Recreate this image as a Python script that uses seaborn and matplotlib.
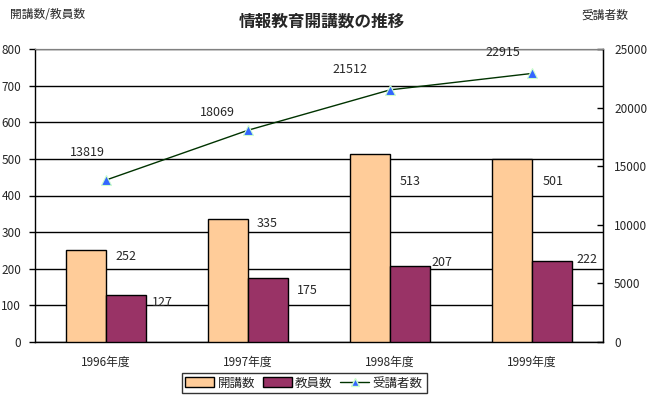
import matplotlib
matplotlib.use("Agg")
import matplotlib.pyplot as plt
from matplotlib.lines import Line2D
from matplotlib.patches import Patch
import numpy as np
import pandas as pd
import seaborn as sns

# data
years = ["1996年度", "1997年度", "1998年度", "1999年度"]
courses = [252, 335, 513, 501]      # 開講数
teachers = [127, 175, 207, 222]     # 教員数
students = [13819, 18069, 21512, 22915]  # 受講者数

# label nudges (pixels) as placed in the original chart
course_off = [(40, -7), (39, -4), (40, -27), (41, -23)]
teacher_off = [(36, -7), (39, -13), (32, 4), (35, 1)]
student_off = [(-19, 28), (-31, 18), (-40, 20), (-29, 21)]

ORANGE = "#FFCC99"
PURPLE = "#993366"
LINE = "#003300"
MARK = "#3366FF"

sns.set_style("white")
plt.rcParams["font.family"] = ["Noto Sans CJK JP", "DejaVu Sans"]
plt.rcParams["font.size"] = 8.5

df = pd.DataFrame({
    "year": years * 2,
    "value": courses + teachers,
    "kind": ["開講数"] * 4 + ["教員数"] * 4,
})

fig = plt.figure(figsize=(6.49, 3.97), dpi=100)
ax = fig.add_axes([35 / 649, 55 / 397, 568 / 649, 293 / 397])

sns.barplot(data=df, x="year", y="value", hue="kind", order=years,
            hue_order=["開講数", "教員数"], palette=[ORANGE, PURPLE],
            saturation=1, width=0.57, gap=0, edgecolor="black", linewidth=1,
            legend=False, ax=ax, zorder=3)

ax.set_ylim(0, 800)
ax.set_yticks(range(0, 801, 100))
ax.set_xlim(-0.5, 3.5)
ax.set_xlabel("")
ax.set_ylabel("")
ax.yaxis.grid(True, color="black", linewidth=1)
ax.set_axisbelow(True)
ax.tick_params(axis="y", direction="out", length=4, width=1, pad=6, color="black")
ax.tick_params(axis="x", which="major", length=0, pad=10)
ax.set_xticks(np.arange(0.5, 3.5, 1), minor=True)
ax.tick_params(axis="x", which="minor", direction="in", length=4, color="black")
for s in ["left", "bottom", "right"]:
    ax.spines[s].set_color("black")
    ax.spines[s].set_linewidth(1)
ax.spines["top"].set_color("#808080")

# bar value labels
bar_w = 0.285
for i in range(len(years)):
    ax.annotate(str(courses[i]), (i - bar_w / 2, courses[i]),
                xytext=course_off[i], textcoords="offset pixels",
                ha="center", va="center", fontsize=9)
    ax.annotate(str(teachers[i]), (i + bar_w / 2, teachers[i]),
                xytext=teacher_off[i], textcoords="offset pixels",
                ha="center", va="center", fontsize=9)

ax2 = ax.twinx()
sns.lineplot(x=np.arange(len(years)), y=students, ax=ax2, color=LINE,
             linewidth=1, marker="^", markersize=7, markerfacecolor=MARK,
             markeredgecolor="#CCFFCC", markeredgewidth=0.8)
ax2.set_ylim(0, 25000)
ax2.set_yticks(range(0, 25001, 5000))
ax2.set_ylabel("")
ax2.tick_params(axis="y", direction="in", length=4, width=1, pad=8, color="black")
ax2.spines["right"].set_color("black")
ax2.spines["top"].set_color("#808080")
ax2.spines["left"].set_visible(False)
ax2.spines["bottom"].set_visible(False)

for i, v in enumerate(students):
    ax2.annotate(str(v), (i, v), xytext=student_off[i],
                 textcoords="offset pixels", ha="center", va="center",
                 fontsize=9)

fig.text(322 / 649, 1 - 22 / 397, "情報教育開講数の推移", ha="center",
         va="center", fontsize=12, fontweight="bold")
fig.text(10 / 649, 1 - 15 / 397, "開講数/教員数", ha="left", va="center",
         fontsize=8.5)
fig.text(628 / 649, 1 - 15 / 397, "受講者数", ha="right", va="center",
         fontsize=8.5)

handles = [
    Patch(facecolor=ORANGE, edgecolor="black", linewidth=1, label="開講数"),
    Patch(facecolor=PURPLE, edgecolor="black", linewidth=1, label="教員数"),
    Line2D([], [], color=LINE, linewidth=1, marker="^", markersize=6,
           markerfacecolor=MARK, markeredgecolor="#CCFFCC", label="受講者数"),
]
leg = fig.legend(handles=handles, loc="center", ncol=3,
                 bbox_to_anchor=(304 / 649, 1 - 383 / 397), frameon=True,
                 fancybox=False, edgecolor="black", fontsize=9,
                 handlelength=2.3, handleheight=0.8, columnspacing=0.6,
                 handletextpad=0.3, borderpad=0.3, borderaxespad=0)
leg.get_frame().set_linewidth(1)

fig.savefig("out.png", dpi=100)
